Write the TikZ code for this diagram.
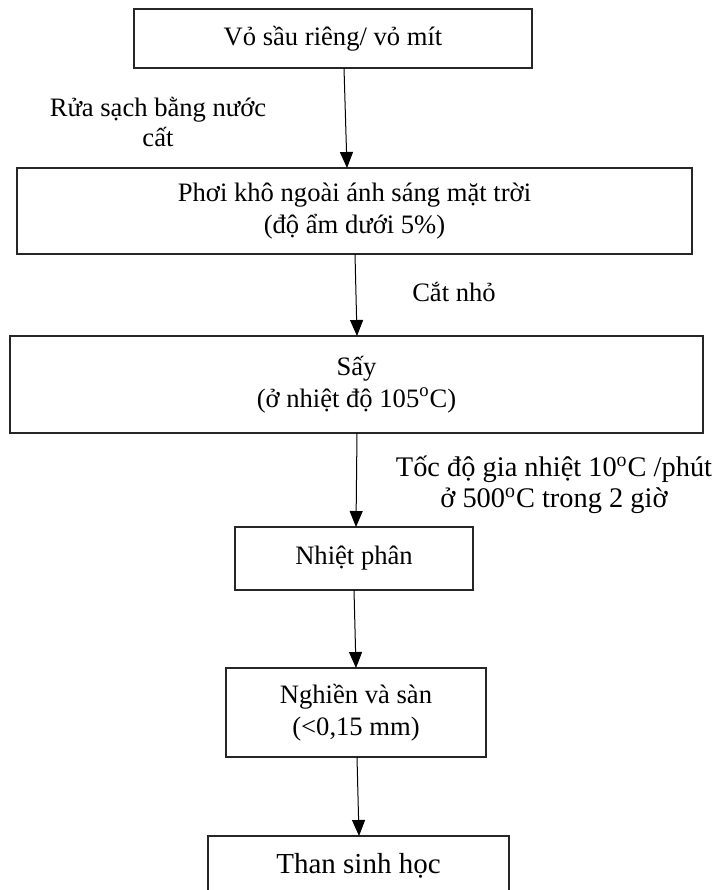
\documentclass[tikz,border=0pt]{standalone}
\usepackage{fontspec}
\setmainfont{Liberation Serif}
\usetikzlibrary{arrows.meta,calc}
\begin{document}
\begin{tikzpicture}[x=0.5pt,y=-0.5pt,
  every node/.style={inner sep=0pt,outer sep=0pt,align=center,font=\fontsize{13.3}{15.8}\selectfont},
  box/.style={draw=black!85,line width=0.6pt,rectangle},
  lbl/.style={},
  conn/.style={line width=0.5pt,-{Triangle[width=6.5pt,length=8pt]}}]
\clip (0,0) rectangle (718,890);
\fill[white] (0,0) rectangle (718,890);
\node[box,minimum width=199pt,minimum height=29.5pt] (b1) at (333,38.5) {Vỏ sầu riêng/ vỏ mít};
\node[box,minimum width=337.5pt,minimum height=43pt] (b2) at (354.5,211) {Phơi khô ngoài ánh sáng mặt trời\\(độ ẩm dưới 5\%)};
\node[box,minimum width=346.5pt,minimum height=48.5pt] (b3) at (356.5,384.5) {Sấy\\(ở nhiệt độ 105\textsuperscript{o}C)};
\node[box,minimum width=119pt,minimum height=31.5pt] (b4) at (354,558.5) {Nhiệt phân};
\node[box,minimum width=130pt,minimum height=44.5pt] (b5) at (356,712.5) {Nghiền và sàn\\(<0,15 mm)};
\node[box,minimum width=150.5pt,minimum height=30pt,font=\fontsize{14.5}{17}\selectfont] (b6) at (358.5,866) {Than sinh học};
\node[lbl,font=\fontsize{13.3}{15}\selectfont] (l1) at (158,122) {Rửa sạch bằng nước\\cất};
\node[lbl] (l2) at (454,292) {Cắt nhỏ};
\node[lbl,font=\fontsize{14.2}{15.5}\selectfont] (l3) at (554,485) {Tốc độ gia nhiệt 10\textsuperscript{o}C /phút\\ở 500\textsuperscript{o}C trong 2 giờ};
\draw[conn] ($(b1.south)+(11,0)$) -- ($(b2.north)+(-7.5,0)$);
\draw[conn] ($(b2.south)+(0.5,0)$) -- ($(b3.north)+(0.5,0)$);
\draw[conn] ($(b3.south)+(0.5,0)$) -- ($(b4.north)+(2,0)$);
\draw[conn] ($(b4.south)+(0,0)$) -- ($(b5.north)+(0,0)$);
\draw[conn] ($(b5.south)+(1,0)$) -- ($(b6.north)+(0.5,0)$);
\end{tikzpicture}
\end{document}
